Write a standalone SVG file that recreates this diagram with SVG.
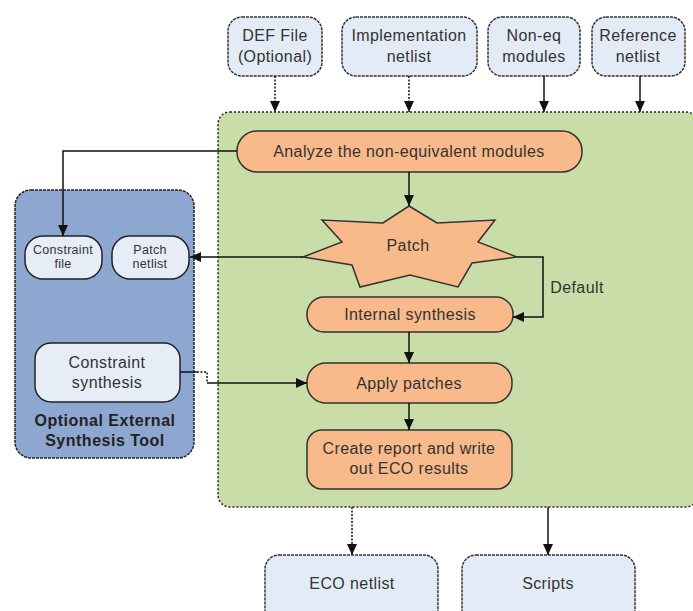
<svg xmlns="http://www.w3.org/2000/svg" width="693" height="611" viewBox="0 0 693 611">
  <defs>
    <marker id="arrow" markerUnits="userSpaceOnUse" markerWidth="12" markerHeight="12" viewBox="0 0 12 12" refX="11" refY="6" orient="auto">
      <path d="M0,1 L11,6 L0,11 Z" fill="#111"/>
    </marker>
    <style>
      text { font-family: "Liberation Sans", Arial, sans-serif; fill: #333; text-anchor: middle; }
      .t16 { font-size: 16px; letter-spacing: 0.4px; }
      .t12 { font-size: 12.5px; letter-spacing: 0.3px; }
      .bold { font-size: 16px; font-weight: bold; fill: #222; letter-spacing: 0.5px; }
      .io { fill: #e3ebf6; stroke: #333; stroke-width: 1.5; stroke-dasharray: 3 1; }
      .panel { fill: #c9dda8; stroke: #222; stroke-width: 1.5; stroke-dasharray: 2 2; }
      .tool { fill: #8ea7d1; stroke: #222; stroke-width: 1.5; stroke-dasharray: 3 1; }
      .inner { fill: #e6edf7; stroke: #222; stroke-width: 1.5; }
      .step { fill: #f8b98b; stroke: #333; stroke-width: 1.5; }
      .link { fill: none; stroke: #111; stroke-width: 1.5; }
      .dot { stroke-dasharray: 2 1.5; }
    </style>
  </defs>

  <!-- containers -->
  <g id="eco-panel">
    <rect class="panel" x="218" y="112" width="480" height="395" rx="12"/>
  </g>
  <g id="external-tool">
    <rect class="tool" x="15" y="190" width="179" height="268" rx="16"/>
    <text class="bold" x="105" y="426">Optional External</text>
    <text class="bold" x="105" y="446">Synthesis Tool</text>
  </g>

  <!-- inputs -->
  <g id="def-file">
    <rect class="io" x="228" y="17" width="94" height="59" rx="14"/>
    <text class="t16" x="275" y="41">DEF File</text>
    <text class="t16" x="275" y="62">(Optional)</text>
  </g>
  <g id="impl-netlist">
    <rect class="io" x="342" y="17" width="135" height="59" rx="14"/>
    <text class="t16" x="409" y="41">Implementation</text>
    <text class="t16" x="409" y="62">netlist</text>
  </g>
  <g id="noneq-modules">
    <rect class="io" x="488" y="17" width="92" height="59" rx="14"/>
    <text class="t16" x="534" y="41">Non-eq</text>
    <text class="t16" x="534" y="62">modules</text>
  </g>
  <g id="ref-netlist">
    <rect class="io" x="592" y="17" width="93" height="59" rx="14"/>
    <text class="t16" x="638" y="41">Reference</text>
    <text class="t16" x="638" y="62">netlist</text>
  </g>

  <!-- flow steps -->
  <g id="analyze">
    <rect class="step" x="237" y="131" width="345" height="41" rx="20"/>
    <text class="t16" x="409" y="157">Analyze the non-equivalent modules</text>
  </g>
  <g id="patch">
    <polygon class="step" points="409,206 437,223 495,220 478,242 517,257 472,263 458,287 410,275 360,287 352,265 303,257 342,242 322,220 383,223"/>
    <text class="t16" x="408" y="251">Patch</text>
  </g>
  <g id="internal-synthesis">
    <rect class="step" x="307" y="297" width="206" height="35" rx="17"/>
    <text class="t16" x="410" y="320">Internal synthesis</text>
  </g>
  <g id="apply-patches">
    <rect class="step" x="307" y="363" width="205" height="40" rx="19"/>
    <text class="t16" x="409" y="389">Apply patches</text>
  </g>
  <g id="create-report">
    <rect class="step" x="307" y="430" width="205" height="59" rx="15"/>
    <text class="t16" x="409" y="454">Create report and write</text>
    <text class="t16" x="409" y="474">out ECO results</text>
  </g>

  <!-- external tool contents -->
  <g id="constraint-file">
    <rect class="inner" x="25" y="236" width="77" height="43" rx="18"/>
    <text class="t12" x="63" y="254">Constraint</text>
    <text class="t12" x="63" y="268">file</text>
  </g>
  <g id="patch-netlist">
    <rect class="inner" x="112" y="236" width="77" height="43" rx="18"/>
    <text class="t12" x="150" y="254">Patch</text>
    <text class="t12" x="150" y="268">netlist</text>
  </g>
  <g id="constraint-synthesis">
    <rect class="inner" x="35" y="343" width="145" height="59" rx="16"/>
    <text class="t16" x="107" y="368">Constraint</text>
    <text class="t16" x="107" y="388">synthesis</text>
  </g>

  <!-- outputs -->
  <g id="eco-netlist">
    <rect class="io" x="265" y="555" width="173" height="70" rx="14"/>
    <text class="t16" x="352" y="589">ECO netlist</text>
  </g>
  <g id="scripts">
    <rect class="io" x="462" y="555" width="173" height="70" rx="14"/>
    <text class="t16" x="548" y="589">Scripts</text>
  </g>

  <!-- connectors -->
  <g id="connectors">
    <path class="link dot" d="M275,76 V112" marker-end="url(#arrow)"/>
    <path class="link dot" d="M409,76 V112" marker-end="url(#arrow)"/>
    <path class="link" d="M544,76 V112" marker-end="url(#arrow)"/>
    <path class="link" d="M640,76 V112" marker-end="url(#arrow)"/>
    <path class="link" d="M237,151 H63 V236" marker-end="url(#arrow)"/>
    <path class="link" d="M409,172 V206" marker-end="url(#arrow)"/>
    <path class="link" d="M303,257 H190" marker-end="url(#arrow)"/>
    <path class="link" d="M517,257 H543 V317 H513" marker-end="url(#arrow)"/>
    <path class="link" d="M409,332 V363" marker-end="url(#arrow)"/>
    <path class="link" d="M180,372 H197"/>
    <path class="link dot" d="M197,372 H207 V383"/>
    <path class="link" d="M207,383 H307" marker-end="url(#arrow)"/>
    <path class="link" d="M409,403 V430" marker-end="url(#arrow)"/>
    <path class="link dot" d="M352,507 V555" marker-end="url(#arrow)"/>
    <path class="link" d="M548,507 V555" marker-end="url(#arrow)"/>
    <text class="t16" x="577" y="293">Default</text>
  </g>
</svg>
